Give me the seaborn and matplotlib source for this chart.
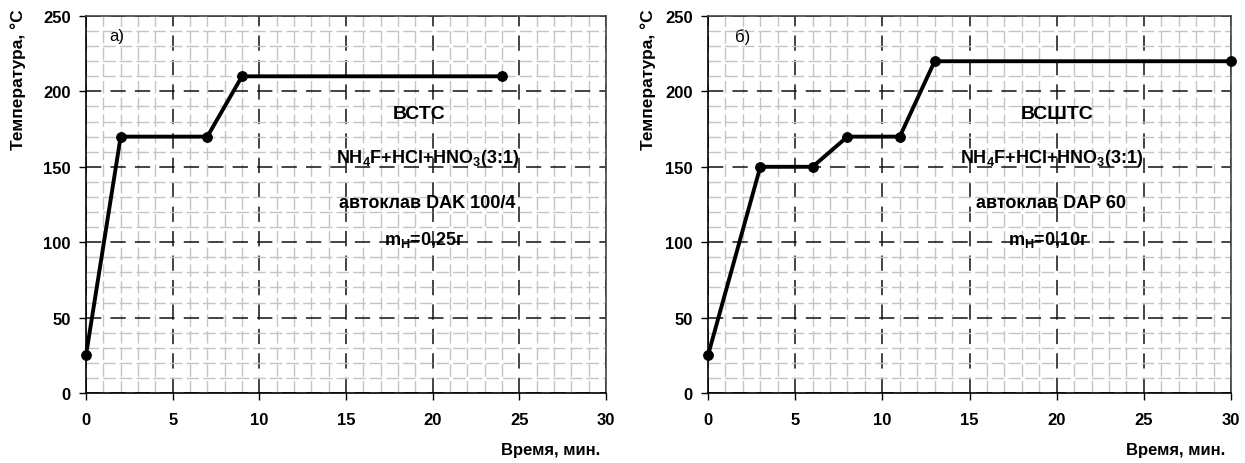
import matplotlib
matplotlib.use("Agg")
import matplotlib.pyplot as plt
import seaborn as sns
import pandas as pd

# Data
time_a = [0, 2, 7, 9, 24]
temp_a = [25, 170, 170, 210, 210]
time_b = [0, 3, 6, 8, 11, 13, 30]
temp_b = [25, 150, 150, 170, 170, 220, 220]

panel_labels = ["а)", "б)"]
titles = ["ВСТС", "ВСШТС"]
autoclaves = ["автоклав DAK 100/4", "автоклав DAP 60"]
masses = ["0,25", "0,10"]
title_x = [19.2, 20.0]
text_x = [19.7, 19.7]
panel_x = [1.8, 2.0]

sns.set_style("white")
plt.rcParams["font.family"] = ["Liberation Sans", "DejaVu Sans"]
plt.rcParams["font.weight"] = "bold"
plt.rcParams["text.color"] = "black"
plt.rcParams["axes.labelcolor"] = "black"
plt.rcParams["xtick.color"] = "black"
plt.rcParams["ytick.color"] = "black"
plt.rcParams["mathtext.fontset"] = "custom"
plt.rcParams["mathtext.rm"] = "Liberation Sans:bold"
plt.rcParams["mathtext.bf"] = "Liberation Sans:bold"
plt.rcParams["mathtext.default"] = "bf"

fig = plt.figure(figsize=(12.45, 4.64), dpi=100)
ax_a = fig.add_axes([86 / 1245, 70 / 464, 520 / 1245, 377 / 464])
ax_b = fig.add_axes([708 / 1245, 70 / 464, 523 / 1245, 377 / 464])

frames = [pd.DataFrame({"t": time_a, "T": temp_a}), pd.DataFrame({"t": time_b, "T": temp_b})]

for i, (ax, df) in enumerate(zip([ax_a, ax_b], frames)):
    ax.set_xlim(0, 30)
    ax.set_ylim(0, 250)
    ax.set_xticks(range(0, 31, 5))
    ax.set_yticks(range(0, 251, 50))
    ax.set_xticks(range(0, 31, 1), minor=True)
    ax.set_yticks(range(0, 251, 10), minor=True)
    # grids
    ax.grid(which="minor", color="#c4c4c4", linestyle=(0, (9, 3)), linewidth=1.0)
    ax.grid(which="major", color="#111111", linestyle=(0, (10, 6)), linewidth=1.1)
    ax.set_axisbelow(True)

    sns.lineplot(data=df, x="t", y="T", ax=ax, color="black", linewidth=2.8,
                 marker="o", markersize=7, markeredgecolor="black", clip_on=False, zorder=5)

    for name, s in ax.spines.items():
        s.set_color("black" if name in ("left", "bottom") else "#444444")
        s.set_linewidth(1.2)
    ax.tick_params(which="major", direction="out", length=5, width=1, labelsize=12,
                   left=True, bottom=True)
    ax.tick_params(which="minor", length=0)
    for lbl in ax.get_xticklabels() + ax.get_yticklabels():
        lbl.set_fontweight("bold")
    ax.tick_params(axis="x", pad=9)
    ax.tick_params(axis="y", pad=6)

    ax.set_xlabel("Время, мин.", fontsize=12, fontweight="bold", loc="right")
    ax.xaxis.set_label_coords(1 - 6 / 520, -49 / 377)
    ax.xaxis.label.set_va("top")
    ax.set_ylabel("Температура, °C", fontsize=12.5, fontweight="bold", loc="top")
    ax.yaxis.set_label_coords(-60 / 520 if i == 0 else -52 / 523, 1.021)

    ax.text(panel_x[i], 237, panel_labels[i], fontsize=12, fontweight="normal",
            ha="center", va="center")
    tx = text_x[i]
    ax.text(title_x[i], 182.5, titles[i], fontsize=14, fontweight="bold",
            ha="center", va="baseline")
    ax.text(tx, 153, r"NH$_{4}$F+HCl+HNO$_{3}$(3:1)", fontsize=13,
            fontweight="bold", ha="center", va="baseline")
    ax.text(tx, 123.5, autoclaves[i], fontsize=13, fontweight="bold",
            ha="center", va="baseline")
    ax.text(tx - 0.2, 99, r"m$_{Н}$=" + masses[i] + "г", fontsize=13,
            fontweight="bold", ha="center", va="baseline")

fig.savefig("out.png", dpi=100)
